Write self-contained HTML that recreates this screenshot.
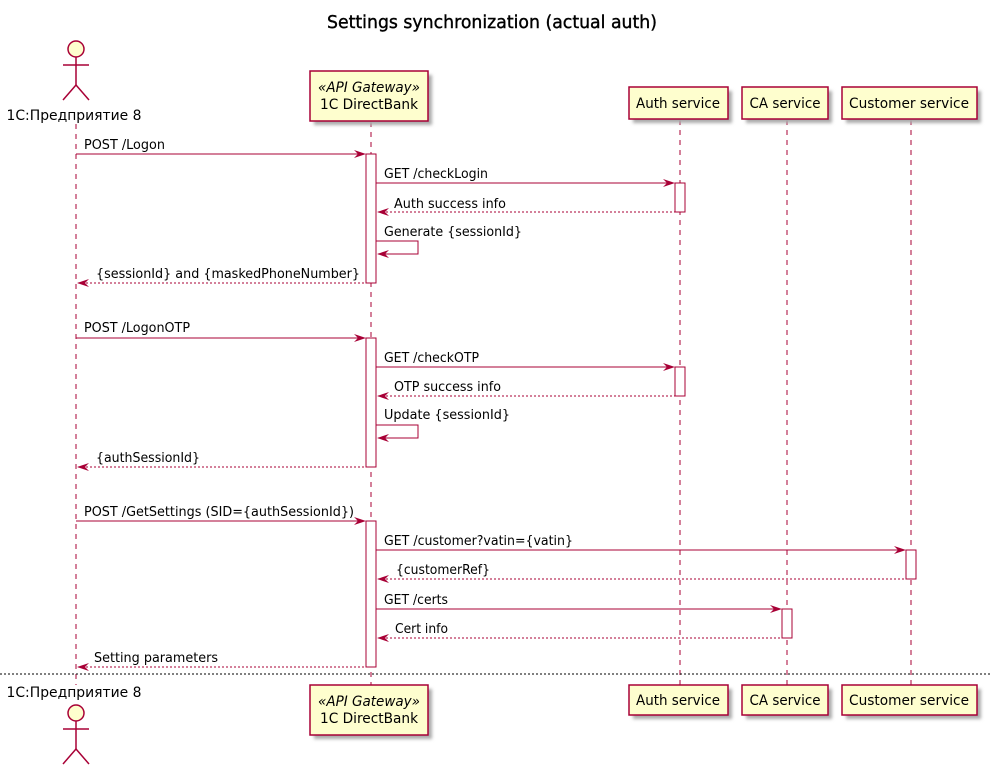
<!DOCTYPE html>
<html><head><meta charset="utf-8"><style>
html,body{margin:0;padding:0;background:#fff;}
svg{display:block;font-family:"DejaVu Sans","Liberation Sans",sans-serif;}
</style></head><body>
<svg width="992" height="767" viewBox="0 0 992 767" xmlns="http://www.w3.org/2000/svg">
<defs>
<filter id="sh" x="-20%" y="-20%" width="150%" height="150%"><feGaussianBlur stdDeviation="1.5"/></filter>
</defs>
<text x="492" y="28" text-anchor="middle" font-size="18" fill="#000" stroke="#000" stroke-width="0.4" textLength="330" lengthAdjust="spacingAndGlyphs">Settings synchronization (actual auth)</text>

<g stroke="#A80036" stroke-width="1" stroke-dasharray="5,5">
<line x1="76" y1="124" x2="76" y2="685"/>
<line x1="371" y1="122" x2="371" y2="685"/>
<line x1="680" y1="120" x2="680" y2="685"/>
<line x1="787" y1="120" x2="787" y2="685"/>
<line x1="911" y1="120" x2="911" y2="685"/>
</g>

<line x1="0" y1="674" x2="992" y2="674" stroke="#000" stroke-width="1" stroke-dasharray="2,2"/>

<g font-size="14">
<rect x="314" y="75" width="118" height="50" fill="#aaa" filter="url(#sh)"/>
<rect x="310" y="71" width="118" height="50" fill="#FEFECE" stroke="#A80036" stroke-width="1.5"/>
<text x="369" y="92" text-anchor="middle" font-style="italic" textLength="102" lengthAdjust="spacingAndGlyphs">«API Gateway»</text>
<text x="369" y="109" text-anchor="middle" textLength="98" lengthAdjust="spacingAndGlyphs">1C DirectBank</text>

<rect x="633" y="91" width="99" height="32" fill="#aaa" filter="url(#sh)"/>
<rect x="629" y="87" width="99" height="32" fill="#FEFECE" stroke="#A80036" stroke-width="1.5"/>
<text x="678" y="108" text-anchor="middle" textLength="84" lengthAdjust="spacingAndGlyphs">Auth service</text>

<rect x="746" y="91" width="86" height="32" fill="#aaa" filter="url(#sh)"/>
<rect x="742" y="87" width="86" height="32" fill="#FEFECE" stroke="#A80036" stroke-width="1.5"/>
<text x="785" y="108" text-anchor="middle" textLength="71" lengthAdjust="spacingAndGlyphs">CA service</text>

<rect x="846" y="91" width="135" height="32" fill="#aaa" filter="url(#sh)"/>
<rect x="842" y="87" width="135" height="32" fill="#FEFECE" stroke="#A80036" stroke-width="1.5"/>
<text x="909" y="108" text-anchor="middle" textLength="120" lengthAdjust="spacingAndGlyphs">Customer service</text>

<g stroke="#A80036" stroke-width="1.5" fill="none">
<circle cx="76" cy="49" r="8" fill="#FEFECE"/>
<line x1="76" y1="57" x2="76" y2="85"/>
<line x1="63" y1="65" x2="89" y2="65"/>
<line x1="76" y1="85" x2="63" y2="100"/>
<line x1="76" y1="85" x2="89" y2="100"/>
</g>
<text x="74" y="120" text-anchor="middle" textLength="135" lengthAdjust="spacingAndGlyphs">1С:Предприятие 8</text>

<rect x="314" y="689" width="118" height="50" fill="#aaa" filter="url(#sh)"/>
<rect x="310" y="685" width="118" height="50" fill="#FEFECE" stroke="#A80036" stroke-width="1.5"/>
<text x="369" y="706" text-anchor="middle" font-style="italic" textLength="102" lengthAdjust="spacingAndGlyphs">«API Gateway»</text>
<text x="369" y="723" text-anchor="middle" textLength="98" lengthAdjust="spacingAndGlyphs">1C DirectBank</text>

<rect x="633" y="689" width="99" height="30" fill="#aaa" filter="url(#sh)"/>
<rect x="629" y="685" width="99" height="30" fill="#FEFECE" stroke="#A80036" stroke-width="1.5"/>
<text x="678" y="705" text-anchor="middle" textLength="84" lengthAdjust="spacingAndGlyphs">Auth service</text>

<rect x="746" y="689" width="86" height="30" fill="#aaa" filter="url(#sh)"/>
<rect x="742" y="685" width="86" height="30" fill="#FEFECE" stroke="#A80036" stroke-width="1.5"/>
<text x="785" y="705" text-anchor="middle" textLength="71" lengthAdjust="spacingAndGlyphs">CA service</text>

<rect x="846" y="689" width="135" height="30" fill="#aaa" filter="url(#sh)"/>
<rect x="842" y="685" width="135" height="30" fill="#FEFECE" stroke="#A80036" stroke-width="1.5"/>
<text x="909" y="705" text-anchor="middle" textLength="120" lengthAdjust="spacingAndGlyphs">Customer service</text>

<text x="74" y="697" text-anchor="middle" textLength="135" lengthAdjust="spacingAndGlyphs">1С:Предприятие 8</text>
<g stroke="#A80036" stroke-width="1.5" fill="none">
<circle cx="76" cy="713" r="8" fill="#FEFECE"/>
<line x1="76" y1="721" x2="76" y2="749"/>
<line x1="63" y1="729" x2="89" y2="729"/>
<line x1="76" y1="749" x2="63" y2="764"/>
<line x1="76" y1="749" x2="89" y2="764"/>
</g>
</g>

<g fill="#fff" stroke="#A80036" stroke-width="1">
<rect x="366" y="154" width="10" height="129"/>
<rect x="366" y="338" width="10" height="129"/>
<rect x="366" y="521" width="10" height="146"/>
<rect x="675" y="183" width="10" height="29"/>
<rect x="675" y="367" width="10" height="29"/>
<rect x="906" y="550" width="10" height="29"/>
<rect x="782" y="609" width="10" height="29"/>
</g>

<g font-size="13" fill="#000">
<text x="84" y="149" textLength="81" lengthAdjust="spacingAndGlyphs">POST /Logon</text>
<text x="384" y="178" textLength="104" lengthAdjust="spacingAndGlyphs">GET /checkLogin</text>
<text x="394" y="208" textLength="112" lengthAdjust="spacingAndGlyphs">Auth success info</text>
<text x="384" y="236" textLength="138" lengthAdjust="spacingAndGlyphs">Generate {sessionId}</text>
<text x="96" y="278" textLength="264" lengthAdjust="spacingAndGlyphs">{sessionId} and {maskedPhoneNumber}</text>
<text x="84" y="332" textLength="106" lengthAdjust="spacingAndGlyphs">POST /LogonOTP</text>
<text x="384" y="362" textLength="95" lengthAdjust="spacingAndGlyphs">GET /checkOTP</text>
<text x="394" y="391" textLength="107" lengthAdjust="spacingAndGlyphs">OTP success info</text>
<text x="384" y="419" textLength="126" lengthAdjust="spacingAndGlyphs">Update {sessionId}</text>
<text x="96" y="462" textLength="104" lengthAdjust="spacingAndGlyphs">{authSessionId}</text>
<text x="84" y="516" textLength="270" lengthAdjust="spacingAndGlyphs">POST /GetSettings (SID={authSessionId})</text>
<text x="384" y="545" textLength="189" lengthAdjust="spacingAndGlyphs">GET /customer?vatin={vatin}</text>
<text x="396" y="574" textLength="94" lengthAdjust="spacingAndGlyphs">{customerRef}</text>
<text x="384" y="604" textLength="64" lengthAdjust="spacingAndGlyphs">GET /certs</text>
<text x="395" y="633" textLength="53" lengthAdjust="spacingAndGlyphs">Cert info</text>
<text x="94" y="662" textLength="124" lengthAdjust="spacingAndGlyphs">Setting parameters</text>
</g>

<g stroke="#A80036" stroke-width="1" fill="none">
<line x1="76" y1="154" x2="364" y2="154"/>
<line x1="376" y1="183" x2="673" y2="183"/>
<line x1="378" y1="212" x2="675" y2="212" stroke-dasharray="2,2"/>
<polyline points="376,241 418,241 418,254 378,254"/>
<line x1="78" y1="283" x2="366" y2="283" stroke-dasharray="2,2"/>
<line x1="76" y1="338" x2="364" y2="338"/>
<line x1="376" y1="367" x2="673" y2="367"/>
<line x1="378" y1="396" x2="675" y2="396" stroke-dasharray="2,2"/>
<polyline points="376,425 418,425 418,438 378,438"/>
<line x1="78" y1="467" x2="366" y2="467" stroke-dasharray="2,2"/>
<line x1="76" y1="521" x2="364" y2="521"/>
<line x1="376" y1="550" x2="904" y2="550"/>
<line x1="378" y1="579" x2="906" y2="579" stroke-dasharray="2,2"/>
<line x1="376" y1="609" x2="780" y2="609"/>
<line x1="378" y1="638" x2="782" y2="638" stroke-dasharray="2,2"/>
<line x1="78" y1="667" x2="366" y2="667" stroke-dasharray="2,2"/>
</g>

<g fill="#A80036">
<polygon points="366,154 354,150 358,154 354,158"/>
<polygon points="675,183 663,179 667,183 663,187"/>
<polygon points="366,338 354,334 358,338 354,342"/>
<polygon points="675,367 663,363 667,367 663,371"/>
<polygon points="366,521 354,517 358,521 354,525"/>
<polygon points="906,550 894,546 898,550 894,554"/>
<polygon points="782,609 770,605 774,609 770,613"/>
<polygon points="377,212 389,208 385,212 389,216"/>
<polygon points="377,254 389,250 385,254 389,258"/>
<polygon points="77,283 89,279 85,283 89,287"/>
<polygon points="377,396 389,392 385,396 389,400"/>
<polygon points="377,438 389,434 385,438 389,442"/>
<polygon points="77,467 89,463 85,467 89,471"/>
<polygon points="377,579 389,575 385,579 389,583"/>
<polygon points="377,638 389,634 385,638 389,642"/>
<polygon points="77,667 89,663 85,667 89,671"/>
</g>
</svg>
</body></html>
